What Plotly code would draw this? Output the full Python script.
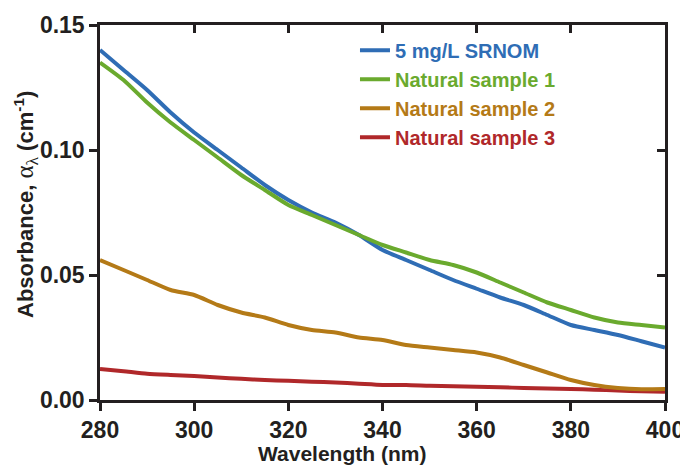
import plotly.graph_objects as go

wavelength = [280, 285, 290, 295, 300, 305, 310, 315, 320, 325, 330, 335, 340,
              345, 350, 355, 360, 365, 370, 375, 380, 385, 390, 395, 400]

srnom = [0.140, 0.132, 0.124, 0.115, 0.107, 0.100, 0.093, 0.086, 0.080, 0.075,
         0.071, 0.066, 0.060, 0.056, 0.052, 0.048, 0.0445, 0.041, 0.038, 0.034,
         0.030, 0.028, 0.026, 0.0235, 0.021]
natural1 = [0.135, 0.128, 0.119, 0.111, 0.104, 0.097, 0.090, 0.084, 0.078, 0.074,
            0.070, 0.066, 0.062, 0.059, 0.056, 0.054, 0.051, 0.047, 0.043, 0.039,
            0.036, 0.033, 0.031, 0.030, 0.029]
natural2 = [0.056, 0.052, 0.048, 0.044, 0.042, 0.038, 0.035, 0.033, 0.030, 0.028,
            0.027, 0.025, 0.024, 0.022, 0.021, 0.020, 0.019, 0.017, 0.014, 0.011,
            0.008, 0.006, 0.0048, 0.0043, 0.0044]
natural3 = [0.0124, 0.0115, 0.0105, 0.0100, 0.0096, 0.0090, 0.0085, 0.0080, 0.0077,
            0.0073, 0.0070, 0.0065, 0.0060, 0.0060, 0.0057, 0.0055, 0.0053, 0.0051,
            0.0048, 0.0046, 0.0044, 0.0041, 0.0038, 0.0035, 0.0033]

series_names = ["5 mg/L SRNOM", "Natural sample 1", "Natural sample 2", "Natural sample 3"]
series_values = [srnom, natural1, natural2, natural3]
series_colors = ["#2F6DB5", "#6AAA2E", "#B47A17", "#B0282A"]

x_ticks = [280, 300, 320, 340, 360, 380, 400]
y_ticks = [0.00, 0.05, 0.10, 0.15]

FONT = "Arial, Liberation Sans, Helvetica, sans-serif"
AX = "#231F20"

fig = go.Figure()
draw_order = [0, 1, 3, 2]
for i in draw_order:
    fig.add_trace(go.Scatter(
        x=wavelength, y=series_values[i], mode="lines",
        line=dict(color=series_colors[i], width=4, shape="spline", smoothing=0.6),
        name=f'<span style="color:{series_colors[i]}">{series_names[i]}</span>',
        legendrank=i + 1,
    ))
# empty trace that only attaches the top/right frame axes
fig.add_trace(go.Scatter(x=[], y=[], xaxis="x2", yaxis="y2", showlegend=False,
                         hoverinfo="skip"))

common_x = dict(range=[280, 400], tickvals=x_ticks, showline=True, linecolor=AX,
                linewidth=2.5, tickcolor=AX, tickwidth=2.5, ticklen=8,
                showgrid=False, zeroline=False, automargin=False)
common_y = dict(range=[0, 0.15], tickvals=y_ticks, showline=True, linecolor=AX,
                linewidth=2.5, tickcolor=AX, tickwidth=2.5, ticklen=8,
                showgrid=False, zeroline=False, automargin=False)

# page body has an 8px default margin; size the figure so the plot box lands
# at the same window pixels as the reference (x 100-665, y 25-400)
fig.update_layout(
    width=680, height=458,
    margin=dict(l=92, r=23, t=17, b=66, autoexpand=False),
    paper_bgcolor="white", plot_bgcolor="white",
    font=dict(family=FONT, color=AX),
    xaxis=dict(**common_x, ticks="outside",
               tickfont=dict(family=FONT, size=23, weight="bold", color=AX)),
    yaxis=dict(**common_y, ticks="outside", tickformat=".2f",
               tickfont=dict(family=FONT, size=23, weight="bold", color=AX)),
    xaxis2=dict(**common_x, overlaying="x", side="top", ticks="inside",
                showticklabels=False),
    yaxis2=dict(**common_y, overlaying="y", side="right", ticks="inside",
                showticklabels=False),
    showlegend=True,
    legend=dict(x=0.4513, y=0.985, xanchor="left", yanchor="top",
                bgcolor="rgba(0,0,0,0)", borderwidth=0,
                font=dict(family=FONT, size=20, weight="bold"),
                traceorder="normal"),
    annotations=[
        dict(text="Wavelength (nm)", xref="paper", yref="paper",
             x=0.4283, y=-0.144, xanchor="center", yanchor="middle",
             showarrow=False, font=dict(family=FONT, size=21, weight="bold", color=AX)),
        dict(text='Absorbance, <span style="font-family:Liberation Serif;font-weight:normal;font-size:25px">α<sub>λ</sub></span> (cm<sup>-1</sup>)',
             xref="paper", yref="paper", x=-0.131, y=0.5227,
             xanchor="center", yanchor="middle", textangle=-90,
             showarrow=False, font=dict(family=FONT, size=22, weight="bold", color=AX)),
    ],
)

fig.write_html("out.html")
